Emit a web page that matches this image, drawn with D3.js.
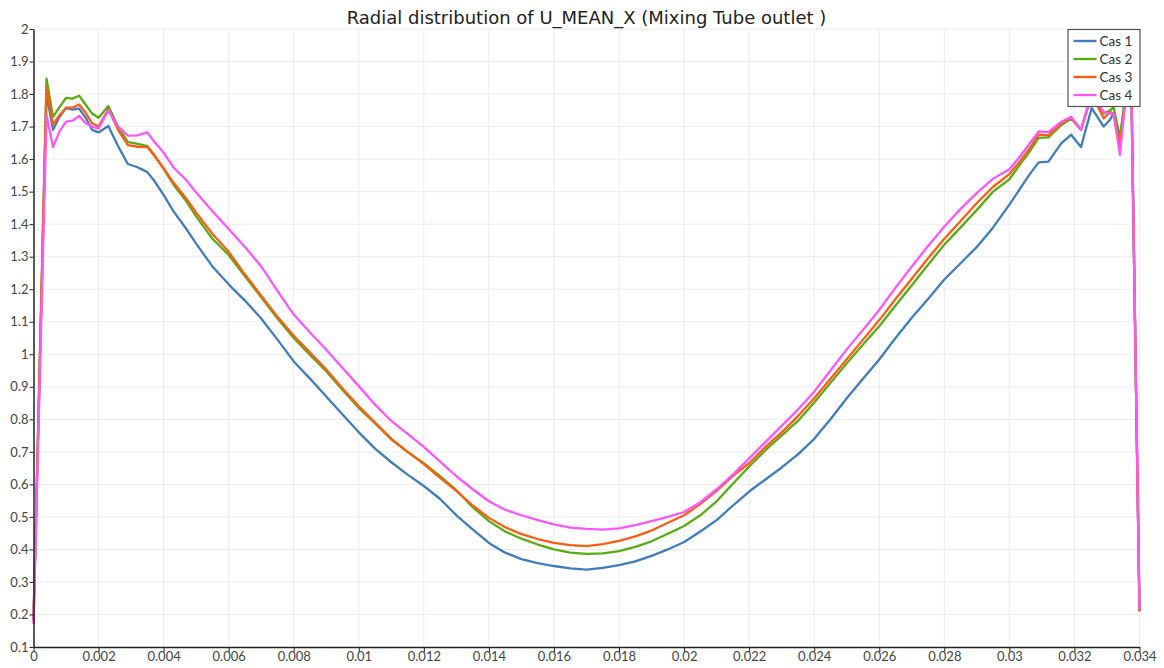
<!DOCTYPE html>
<html>
<head>
<meta charset="utf-8">
<script src="https://cdn.jsdelivr.net/npm/d3@7"></script>
<style>
  body { margin: 0; background: #fff; }
  svg { display: block; font-family: "Lato", "Open Sans", sans-serif; }
</style>
</head>
<body>
<svg id="chart" width="1164" height="668"></svg>
<script>
// radial position (m)
const radius = [
  0, 0.0004, 0.0006, 0.0008, 0.001, 0.0012, 0.0014, 0.0016, 0.0018, 0.002,
  0.0023, 0.0026, 0.0029, 0.0032, 0.0035, 0.0037, 0.004, 0.0043, 0.0047, 0.005,
  0.0055, 0.006, 0.0065, 0.007, 0.0075, 0.008, 0.0085, 0.009, 0.0095, 0.01,
  0.0105, 0.011, 0.0115, 0.012, 0.0125, 0.013, 0.0135, 0.014, 0.0145, 0.015,
  0.0155, 0.016, 0.0165, 0.017, 0.0175, 0.018, 0.0185, 0.019, 0.0195, 0.02,
  0.0205, 0.021, 0.0215, 0.022, 0.0225, 0.023, 0.0235, 0.024, 0.0245, 0.025,
  0.0255, 0.026, 0.0265, 0.027, 0.0275, 0.028, 0.0285, 0.029, 0.0295, 0.03,
  0.0303, 0.0306, 0.0309, 0.0312, 0.0316, 0.0319, 0.0322, 0.03253, 0.0329, 0.0331,
  0.0332, 0.0334, 0.0336, 0.03375, 0.034
];

const cas1 = [
  0.18, 1.80, 1.69, 1.73, 1.757, 1.752, 1.755, 1.728, 1.69, 1.682,
  1.702, 1.64, 1.585, 1.575, 1.56, 1.535, 1.49, 1.44, 1.385, 1.34,
  1.27, 1.215, 1.165, 1.11, 1.045, 0.978, 0.925, 0.87, 0.815, 0.76,
  0.71, 0.668, 0.63, 0.595, 0.555, 0.505, 0.462, 0.42, 0.39, 0.37,
  0.358, 0.349, 0.342, 0.338, 0.343, 0.352, 0.363, 0.38, 0.40, 0.423,
  0.455, 0.49, 0.535, 0.578, 0.615, 0.652, 0.692, 0.74, 0.80, 0.865,
  0.925, 0.984, 1.05, 1.112, 1.17, 1.23, 1.28, 1.33, 1.39, 1.46,
  1.505, 1.55, 1.59, 1.592, 1.649, 1.675, 1.637, 1.757, 1.70, 1.722,
  1.74, 1.67, 1.80, 1.80, 0.21
];

const cas2 = [
  0.18, 1.847, 1.73, 1.76, 1.788, 1.786, 1.795, 1.768, 1.74, 1.727,
  1.763, 1.70, 1.652, 1.647, 1.64, 1.615, 1.57, 1.522, 1.47, 1.424,
  1.355, 1.305, 1.24, 1.175, 1.11, 1.05, 0.998, 0.948, 0.89, 0.835,
  0.787, 0.738, 0.70, 0.665, 0.625, 0.582, 0.53, 0.487, 0.455, 0.433,
  0.415, 0.40, 0.39, 0.386, 0.388, 0.395, 0.408, 0.425, 0.448, 0.472,
  0.505, 0.548, 0.602, 0.655, 0.705, 0.75, 0.795, 0.852, 0.912, 0.972,
  1.03, 1.086, 1.15, 1.212, 1.275, 1.337, 1.39, 1.444, 1.50, 1.538,
  1.58, 1.62, 1.665, 1.667, 1.705, 1.725, 1.69, 1.80, 1.74, 1.75,
  1.76, 1.665, 1.83, 1.83, 0.21
];

const cas3 = [
  0.18, 1.82, 1.706, 1.735, 1.758, 1.758, 1.768, 1.743, 1.71, 1.70,
  1.753, 1.69, 1.643, 1.638, 1.637, 1.612, 1.572, 1.528, 1.478, 1.435,
  1.37, 1.315, 1.245, 1.18, 1.115, 1.057, 1.005, 0.953, 0.895, 0.84,
  0.79, 0.74, 0.70, 0.662, 0.62, 0.58, 0.535, 0.497, 0.468, 0.447,
  0.432, 0.42, 0.413, 0.41, 0.416, 0.426, 0.44, 0.458, 0.482, 0.505,
  0.54, 0.58, 0.626, 0.665, 0.715, 0.76, 0.81, 0.865, 0.925, 0.985,
  1.045, 1.105, 1.17, 1.232, 1.295, 1.355, 1.41, 1.465, 1.515, 1.554,
  1.59, 1.63, 1.675, 1.673, 1.71, 1.728, 1.69, 1.80, 1.725, 1.745,
  1.74, 1.636, 1.82, 1.82, 0.21
];

const cas4 = [
  0.17, 1.735, 1.637, 1.685, 1.715, 1.718, 1.733, 1.71, 1.70, 1.694,
  1.75, 1.70, 1.672, 1.673, 1.682, 1.655, 1.62, 1.575, 1.535, 1.497,
  1.44, 1.385, 1.33, 1.27, 1.195, 1.122, 1.067, 1.014, 0.958, 0.902,
  0.845, 0.795, 0.755, 0.715, 0.67, 0.625, 0.585, 0.548, 0.522, 0.505,
  0.49, 0.477, 0.467, 0.463, 0.461, 0.465, 0.475, 0.487, 0.50, 0.515,
  0.545, 0.585, 0.63, 0.68, 0.73, 0.78, 0.83, 0.885, 0.95, 1.015,
  1.075, 1.137, 1.205, 1.27, 1.333, 1.393, 1.447, 1.496, 1.54, 1.569,
  1.605, 1.645, 1.685, 1.683, 1.715, 1.73, 1.69, 1.80, 1.745, 1.74,
  1.74, 1.613, 1.82, 1.82, 0.215
];

const seriesNames = ["Cas 1", "Cas 2", "Cas 3", "Cas 4"];
const seriesColors = ["#407cbe", "#5aaa14", "#ff5c14", "#ff55ff"];
const xTicks = d3.range(0, 0.0341, 0.002);
const yTicks = d3.range(0.1, 2.001, 0.1);

const svg = d3.select("#chart");
const margin = { left: 33.5, right: 24.5, top: 29, bottom: 21 };
const width = 1164, height = 668;

const x = d3.scaleLinear().domain([0, 0.034]).range([margin.left, width - margin.right]);
const y = d3.scaleLinear().domain([0.1, 2]).range([height - margin.bottom, margin.top]);

// grid
svg.append("g")
    .selectAll("line.vgrid")
    .data(xTicks.slice(1))
    .join("line")
    .attr("x1", d => x(d)).attr("x2", d => x(d))
    .attr("y1", y(0.1)).attr("y2", y(2))
    .attr("stroke", "#ececec").attr("stroke-width", 1);

svg.append("g")
    .selectAll("line.hgrid")
    .data(yTicks.slice(1))
    .join("line")
    .attr("x1", x(0)).attr("x2", x(0.034))
    .attr("y1", d => y(d)).attr("y2", d => y(d))
    .attr("stroke", "#ececec").attr("stroke-width", 1);

// series
const cases = [cas1, cas2, cas3, cas4];
const line = d3.line()
    .x((d, i) => x(radius[i]))
    .y(d => y(d));

cases.forEach((vals, i) => {
    svg.append("path")
        .attr("d", line(vals))
        .attr("fill", "none")
        .attr("stroke", seriesColors[i])
        .attr("stroke-width", 2.3)
        .attr("stroke-linejoin", "round");
});

// axes
const fmtX = d => d === 0 ? "0" : d3.format(".3~f")(d);
const xAxis = svg.append("g")
    .attr("transform", `translate(0,${y(0.1)})`)
    .call(d3.axisBottom(x).tickValues(xTicks).tickFormat(fmtX).tickSize(5).tickSizeOuter(0));
const yAxis = svg.append("g")
    .attr("transform", `translate(${x(0)},0)`)
    .call(d3.axisLeft(y).tickValues(yTicks).tickFormat(d3.format("~g")).tickSize(4).tickSizeOuter(0));

[xAxis, yAxis].forEach(ax => {
    ax.select(".domain").attr("stroke", "#222").attr("stroke-width", 1.5);
    ax.selectAll(".tick line").attr("stroke", "#222");
    ax.selectAll("text")
        .attr("font-family", "Lato, 'Open Sans', sans-serif")
        .attr("font-size", 13)
        .attr("fill", "#444");
});
xAxis.selectAll("text").attr("dy", "0.62em").attr("y", 6);
yAxis.selectAll("text").attr("x", -5);

// title
svg.append("text")
    .attr("x", (x(0) + x(0.034)) / 2)
    .attr("y", 24)
    .attr("text-anchor", "middle")
    .attr("font-family", "'DejaVu Sans', sans-serif")
    .attr("font-size", 18)
    .attr("fill", "#222")
    .text("Radial distribution of U_MEAN_X (Mixing Tube outlet )");

// legend
const legend = svg.append("g").attr("transform", `translate(${x(0.034) - 72},${y(2)})`);
legend.append("rect")
    .attr("x", 0.5).attr("y", 0.5)
    .attr("width", 72).attr("height", 77)
    .attr("fill", "#fff")
    .attr("stroke", "#555").attr("stroke-width", 1.2);

seriesNames.forEach((name, i) => {
    const row = legend.append("g").attr("transform", `translate(0,${12 + i * 18})`);
    row.append("line")
        .attr("x1", 6).attr("x2", 29)
        .attr("stroke", seriesColors[i]).attr("stroke-width", 2.4);
    row.append("text")
        .attr("x", 32).attr("y", 0)
        .attr("dy", "0.35em")
        .attr("font-size", 13.5)
        .attr("fill", "#333")
        .text(name);
});
</script>
</body>
</html>
